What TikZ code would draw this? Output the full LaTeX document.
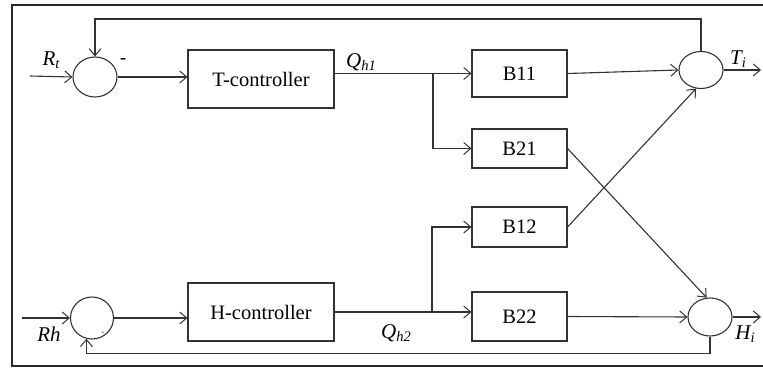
\documentclass[tikz,border=0pt]{standalone}
\usepackage{fontspec}
\setmainfont{Liberation Serif}
\usetikzlibrary{arrows.meta,shapes.geometric}
\tikzset{
  line/.style={draw=black!80, line width=1.1pt},
  arr/.style={line, -{Straight Barb[length=7pt,width=12pt,line width=1pt]}},
  sumnode/.style={ellipse, draw=black!80, line width=1.1pt, inner sep=0pt},
  blockbox/.style={rectangle, draw=black!80, line width=1.1pt, inner sep=0pt, font=\fontsize{20.5}{23}\selectfont},
  lbl/.style={font=\fontsize{21}{23}\selectfont\itshape, inner sep=0pt},
}
\newcommand{\subit}[1]{\raisebox{-0.3ex}{\fontsize{14.5}{16}\selectfont\itshape #1}}
\begin{document}
\begin{tikzpicture}[x=1pt,y=-1pt]
\useasboundingbox (0,0) rectangle (763,372);
% outer frame, open on the right
\draw[draw=black!85, line width=1.1pt] (763,5) -- (12,5) -- (12,366) -- (763,366);

% summing junctions
\node[sumnode, minimum width=44pt, minimum height=40pt] (s1) at (95,77) {};
\node[sumnode, minimum width=43pt, minimum height=42pt] (s2) at (92,318) {};
\node[sumnode, minimum width=44pt, minimum height=37pt] (s3) at (701,70) {};
\node[sumnode, minimum width=44pt, minimum height=38pt] (s4) at (710,317) {};

% controller and process blocks
\node[blockbox, minimum width=146pt, minimum height=58pt] (tc) at (261,79) {T-controller};
\node[blockbox, minimum width=146pt, minimum height=58pt] (hc) at (261,312) {H-controller};
\node[blockbox, minimum width=95pt, minimum height=47pt] (b11) at (519.5,73.5) {B11};
\node[blockbox, minimum width=95pt, minimum height=39pt] (b21) at (519.5,148.5) {B21};
\node[blockbox, minimum width=95pt, minimum height=40pt] (b12) at (519.5,227) {B12};
\node[blockbox, minimum width=95pt, minimum height=49pt] (b22) at (519.5,316.5) {B22};

% free ends and branch points
\coordinate (rin) at (30,76);
\coordinate (hin) at (22,318);
\coordinate (tout) at (761,70);
\coordinate (hout) at (761,317);
\coordinate (br1) at (433,73.5);
\coordinate (br2) at (432,312);

% inputs and controller paths
\draw[arr] (rin) -- (s1.west);
\draw[arr] (hin) -- (s2.west);
\draw[arr] (s1.east) -- (s1.east -| tc.west);
\draw[arr] (s2.east) -- (s2.east -| hc.west);
\draw[arr] (tc.east |- b11.west) -- (b11.west);
\draw[arr] (br1) |- (b21.west);
\draw[arr] (hc.east) -- (hc.east -| b22.west);
\draw[arr] (br2) |- (b12.west);

% cross-coupling into the outputs
\draw[arr] (b11.east) -- (s3.west);
\draw[arr] (b12.east) -- (s3.-105);
\draw[arr] (b21.east) -- (s4.100);
\draw[arr] (b22.east) -- (s4.west);
\draw[arr] (s3.east) -- (tout);
\draw[arr] (s4.east) -- (hout);

% feedback loops
\draw[arr] (s3.north) -- ++(0,-32) -| (s1.north);
\draw[arr] (s4.south) -- ++(0,17) -| (s2.-105);

% labels
\node[lbl] (lrt) at (51,60) {R\subit{t}};
\node[font=\bfseries\fontsize{18}{18}\selectfont, inner sep=0pt] (m1) at (123,61) {-};
\node[lbl] (lq1) at (361,62) {Q\subit{h1}};
\node[lbl] (lti) at (738,59) {T\subit{i}};
\node[lbl] (lrh) at (49,334) {Rh};
\node[font=\fontsize{8}{9}\selectfont, inner sep=0pt] (m2) at (103,333) {-};
\node[lbl] (lq2) at (396,333) {Q\subit{h2}};
\node[lbl] (lhi) at (745,334) {H\subit{i}};
\end{tikzpicture}
\end{document}
